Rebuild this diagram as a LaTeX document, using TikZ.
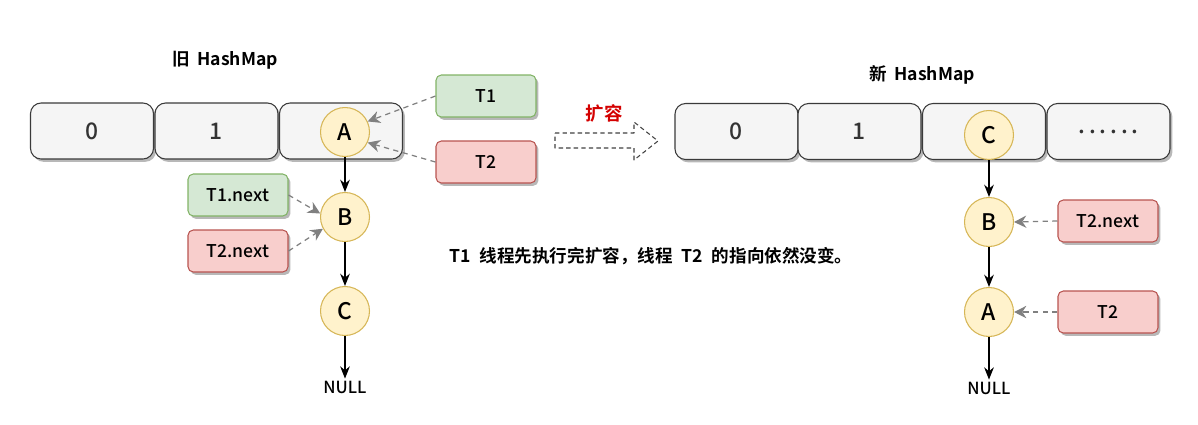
\documentclass[tikz,border=0pt]{standalone}
\usepackage{fontspec}
\setmainfont{Noto Sans CJK SC}[BoldFont={Noto Sans CJK SC Bold}]
\newfontfamily\labelfont{Noto Sans CJK SC Medium}
\usetikzlibrary{arrows.meta,shadows}

\definecolor{cellfill}{HTML}{F5F5F5}
\definecolor{cellline}{HTML}{3A3A3A}
\definecolor{greenfill}{HTML}{D5E8D4}
\definecolor{greenline}{HTML}{82B366}
\definecolor{redfill}{HTML}{F8CECC}
\definecolor{redline}{HTML}{B85450}
\definecolor{nodefill}{HTML}{FFF2CC}
\definecolor{nodeline}{HTML}{D6B656}
\definecolor{ptrline}{HTML}{808080}
\definecolor{expandred}{HTML}{D40000}

\newcommand\dotrow{.\kern2.2pt.\kern2.2pt.\kern2.2pt.\kern2.2pt.\kern2.2pt.}

\tikzset{
  softshadow/.style={drop shadow={shadow xshift=1.4pt, shadow yshift=-1.6pt, opacity=0.28, fill=black}},
  cell/.style={draw=cellline, fill=cellfill, line width=0.6pt, rounded corners=6pt,
    minimum width=2.46cm, minimum height=1.12cm, inner sep=0pt, softshadow,
    font=\labelfont\fontsize{13}{15}\selectfont, text=black!80},
  ptrbox/.style={line width=0.6pt, rounded corners=3pt, minimum width=2.0cm,
    minimum height=0.84cm, inner sep=0pt, softshadow,
    font=\labelfont\fontsize{10}{12}\selectfont},
  greenbox/.style={ptrbox, draw=greenline, fill=greenfill},
  redbox/.style={ptrbox, draw=redline, fill=redfill},
  entry/.style={circle, draw=nodeline, fill=nodefill, line width=0.6pt,
    minimum size=0.98cm, inner sep=0pt, font=\labelfont\fontsize{13}{15}\selectfont},
  nulltext/.style={inner sep=1pt, font=\labelfont\fontsize{9.5}{11}\selectfont},
  titletext/.style={font=\bfseries\fontsize{10}{12}\selectfont},
  nextarrow/.style={-{Stealth[length=7pt,width=5.5pt]}, line width=0.7pt, black},
  ptrarrow/.style={-{Stealth[length=7pt,width=7pt]}, ptrline, line width=0.7pt,
    dash pattern=on 3pt off 2.5pt},
}

\begin{document}
\begin{tikzpicture}[x=0.02cm, y=-0.02cm]
  \useasboundingbox (0,0) rectangle (1198,424);

  % ---------- old table ----------
  \node[titletext] (oldtitle) at (225,60) {旧\hspace{0.45em}HashMap};
  \node[cell] (o0) at (92,131) {0};
  \node[cell] (o1) at (216.5,131) {1};
  \node[cell] (o2) at (341,131) {};

  \node[entry] (oA) at (345,132) {A};
  \node[entry] (oB) at (345,217) {B};
  \node[entry] (oC) at (345,311) {C};
  \node[nulltext] (onull) at (345,387) {NULL};

  \node[greenbox] (t1) at (486,96) {T1};
  \node[redbox] (t2) at (486,162) {T2};
  \node[greenbox] (t1n) at (238,195) {T1.next};
  \node[redbox] (t2n) at (238,251) {T2.next};

  \draw[nextarrow] (oA) -- (oB);
  \draw[nextarrow] (oB) -- (oC);
  \draw[nextarrow] (oC) -- (onull.north);

  \draw[ptrarrow] (t1.west) -- (oA.25);
  \draw[ptrarrow] (t2.west) -- (oA.335);
  \draw[ptrarrow] (t1n.east) -- (oB.172);
  \draw[ptrarrow] (t2n.east) -- (oB.208);

  % ---------- resize arrow ----------
  \node[font=\bfseries\fontsize{10.5}{12}\selectfont, text=expandred] (expand) at (604,113) {扩容};
  \draw[black!75, line width=0.6pt, dash pattern=on 2.5pt off 1.8pt, line join=round]
    (555,133) -- (634,133) -- (634,122) -- (658,141) -- (634,160) -- (634,148)
    -- (555,148) -- cycle;

  % ---------- new table ----------
  \node[titletext] (newtitle) at (922,75) {新\hspace{0.45em}HashMap};
  \node[cell] (n0) at (736.5,131.5) {0};
  \node[cell] (n1) at (859.5,131.5) {1};
  \node[cell] (n2) at (984,131.5) {};
  \node[cell] (n3) at (1108.5,131.5) {\dotrow};

  \node[entry] (nC) at (989,135) {C};
  \node[entry] (nB) at (989,222) {B};
  \node[entry] (nA) at (989,312) {A};
  \node[nulltext] (nnull) at (989,388) {NULL};

  \node[redbox] (nt2n) at (1108,221) {T2.next};
  \node[redbox] (nt2) at (1108,312) {T2};

  \draw[nextarrow] (nC) -- (nB);
  \draw[nextarrow] (nB) -- (nA);
  \draw[nextarrow] (nA) -- (nnull.north);

  \draw[ptrarrow] (nt2n.west) -- (nB.east);
  \draw[ptrarrow] (nt2.west) -- (nA.east);

  % ---------- caption ----------
  \node[font=\bfseries\fontsize{10}{12}\selectfont] (caption) at (651,256)
    {T1\hspace{0.5em}线程先执行完扩容，线程\hspace{0.5em}T2\hspace{0.5em}的指向依然没变。};
\end{tikzpicture}
\end{document}
